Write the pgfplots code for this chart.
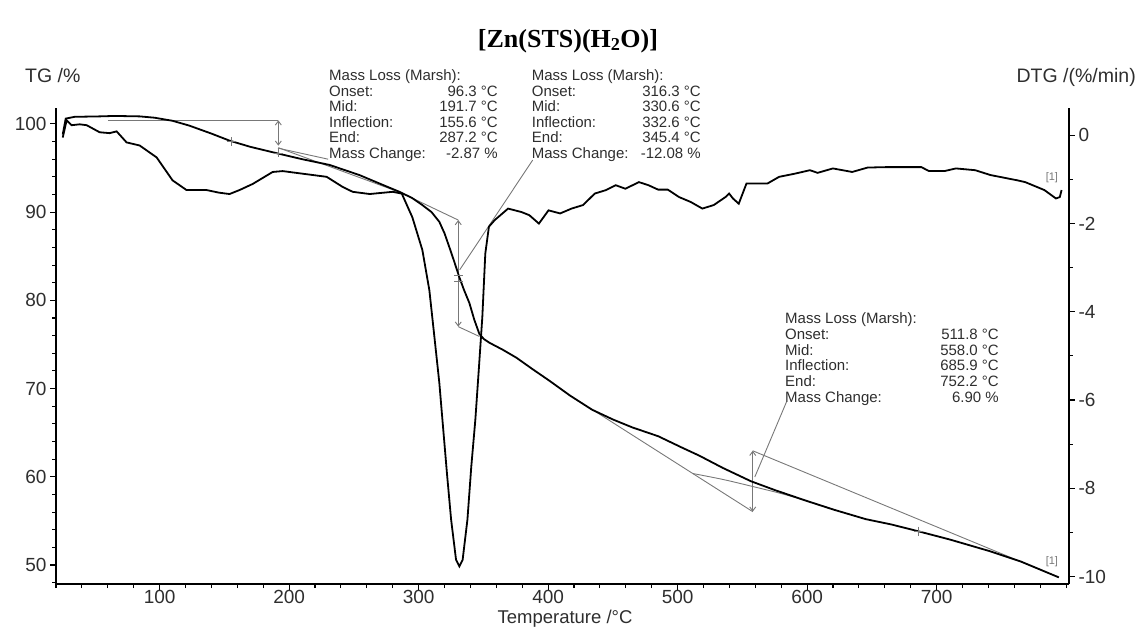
\documentclass[border=0pt]{standalone}
\usepackage{fontspec}
\setmainfont{Liberation Sans}
\newfontfamily\titleserif{Liberation Serif}
\usepackage{pgfplots}
\usepackage{pgfplotstable}
\pgfplotsset{compat=1.18}
\usetikzlibrary{arrows.meta}

\definecolor{ink}{gray}{0.18}
\definecolor{construct}{gray}{0.47}

% thermogravimetric curve: temperature / degC, mass / %
\pgfplotstableread{
T TG
25.2 98.8
27.5 100.6
34.4 100.8
53.7 100.85
65.3 100.9
84.6 100.85
96.1 100.7
110 100.35
123 99.8
140 98.9
154 98.1
170 97.4
192.6 96.6
210 96.0
231.2 95.35
254.3 94.2
272.1 93.1
285.2 92.3
295 91.6
302.9 90.8
310 90.0
316 88.9
320 87.6
323.8 86.0
327.5 84.4
331.5 82.6
335 81.2
339.2 79.7
343 77.8
346.9 76.2
350.5 75.6
354.6 75.2
365 74.4
375.5 73.5
388 72.2
400.9 70.9
417 69.2
434 67.6
450 66.5
465 65.6
485 64.6
503.5 63.3
516.7 62.4
535 61.0
556.6 59.5
575 58.5
599 57.3
620 56.3
645.3 55.2
665 54.6
683.9 53.9
710 52.9
740.4 51.6
765 50.4
794.4 48.6
}\tgdata

% derivative curve: temperature / degC, DTG / (%/min)
\pgfplotstableread{
T D
25.2 -0.05
28.2 0.34
32.1 0.23
38.3 0.25
43.7 0.23
53.7 0.07
61.4 0.05
66.8 0.09
74.5 -0.16
84.6 -0.23
97.7 -0.5
110 -1.02
120.8 -1.24
136.3 -1.24
146 -1.3
154 -1.33
161.7 -1.24
172 -1.1
187.3 -0.83
195 -0.81
208 -0.86
229 -0.94
241.4 -1.17
249.1 -1.28
262.2 -1.33
280 -1.28
287 -1.32
295.2 -1.86
302.9 -2.6
308.3 -3.51
312.2 -4.57
316 -5.61
318.4 -6.45
322 -7.7
325.1 -8.71
328.9 -9.62
331.5 -9.77
334.0 -9.62
337.7 -8.71
340.7 -7.5
343.8 -6.45
346.5 -5.3
349.2 -4.12
351.5 -2.68
354.3 -2.07
358.8 -1.92
369.1 -1.66
379.6 -1.74
385.5 -1.81
392.9 -2.0
400.3 -1.70
409.3 -1.77
418.1 -1.66
427 -1.58
436 -1.32
444.8 -1.24
452.2 -1.13
459.7 -1.21
470.1 -1.06
477.5 -1.13
484.9 -1.23
492.4 -1.23
501.2 -1.40
510.1 -1.51
519.1 -1.66
527.9 -1.58
536.9 -1.40
539.8 -1.32
542.7 -1.43
547.2 -1.55
553.2 -1.09
569.5 -1.09
578.4 -0.94
590.3 -0.87
602.2 -0.79
608.1 -0.85
619.9 -0.75
634.8 -0.83
646.7 -0.73
661.5 -0.72
688.2 -0.72
694.1 -0.81
706 -0.81
714.9 -0.75
729.8 -0.79
741.6 -0.90
762.4 -1.02
768.4 -1.06
783.2 -1.24
792.1 -1.43
795.1 -1.40
796.5 -1.24
}\dtgdata

\newcommand\annfont{\fontsize{15}{15}\selectfont}
% one line of a mass-loss evaluation box: x of labels, x of values, baseline, label, value
\newcommand\annline[5]{%
  \node[anchor=base west, inner sep=0pt, font=\annfont, text=ink] at (#1,#3) {#4};
  \node[anchor=base east, inner sep=0pt, font=\annfont, text=ink] at (#2,#3) {#5};}

\begin{document}
\begin{tikzpicture}[x=1pt,y=1pt]
\useasboundingbox (0,0) rectangle (1137,630);
\pgfplotsset{
  panel/.style={
    at={(56pt,46pt)}, anchor=south west, scale only axis,
    width=1013pt, height=476pt, xmin=20, xmax=802.2,
    axis line style={-, line width=1.3pt, black},
    tick style={line width=1.1pt, black},
    tick align=outside, major tick length=6pt, minor tick length=4pt,
    ticklabel style={font=\fontsize{19}{19}\selectfont, text=ink},
  },
  thin line/.style={construct, line width=0.9pt},
  twoway/.style={thin line, {Straight Barb[length=4pt,width=6pt]}-{Straight Barb[length=4pt,width=6pt]}},
}

% TG axis (left)
\begin{axis}[panel,
  ymin=47.85, ymax=101.8,
  axis x line*=bottom, axis y line*=left,
  xtick={100,200,...,700}, xticklabels={100,200,300,400,500,600,700},
  xticklabel style={yshift=3pt},
  minor xtick={20,40,...,800},
  ytick={50,60,...,100}, yticklabels={50,60,70,80,90,100},
  minor ytick={48,50,...,100},
  xlabel={Temperature /°C},
  xlabel style={at={(axis description cs:0.5025,0)}, anchor=center, yshift=-35pt,
    font=\fontsize{18.5}{18.5}\selectfont, text=ink},
]
% step 1
\addplot[thin line] coordinates {(60,100.4) (191.7,100.4)};
\addplot[twoway] coordinates {(191.7,100.4) (191.7,97.53)};
\addplot[thin line] coordinates {(191.7,97.3) (286.3,92.2)};
\addplot[thin line] coordinates {(191.4,97.25) (230.1,96.0)};
\addplot[thin line, only marks, mark=+, mark size=4.5pt] coordinates {(155.6,98.0) (191.7,96.7)};
% step 2
\addplot[thin line] coordinates {(286.3,92.2) (330.6,89.1)};
\addplot[twoway] coordinates {(330.6,89.1) (330.6,77.02)};
\addplot[thin line] coordinates {(330.6,77.02) (347,75.9)};
\addplot[thin line] coordinates {(331.7,83.45) (388.1,95.9)};
\addplot[thin line, only marks, mark=-, mark size=4.5pt] coordinates {(330.6,82.8) (330.6,82.1)};
% step 3
\addplot[thin line] coordinates {(432.2,67.8) (558,56.05)};
\addplot[twoway] coordinates {(558,62.95) (558,56.05)};
\addplot[thin line] coordinates {(558,62.95) (794.4,48.6)};
\addplot[thin line, smooth] coordinates {(511.8,60.37) (535,59.7) (558,58.9) (580,58.1) (600,57.25) (620,56.35)};
\addplot[thin line] coordinates {(559.6,59.98) (584.1,68.5)};
\addplot[thin line, only marks, mark=+, mark size=4.5pt] coordinates {(685.9,53.85)};
% TG curve
\addplot[black, line width=1.8pt] table[x=T, y=TG] {\tgdata};
\node[font=\fontsize{11}{11}\selectfont, text=construct] at (axis cs:789,50.4) {[1]};
\end{axis}

% DTG axis (right)
\begin{axis}[panel,
  ymin=-10.17, ymax=0.62,
  axis x line=none, axis y line*=right,
  ytick={-10,-8,...,0}, yticklabels={-10,-8,-6,-4,-2,0},
  minor ytick={-10,-9,...,0},
]
\addplot[black, line width=1.8pt] table[x=T, y=D] {\dtgdata};
\node[font=\fontsize{11}{11}\selectfont, text=construct] at (axis cs:789,-0.97) {[1]};
\end{axis}

% title and axis names
\node[font=\titleserif\bfseries\fontsize{26}{26}\selectfont] at (568,589) {[Zn(STS)(H\textsubscript{2}O)]};
\node[anchor=base west, inner sep=0pt, font=\fontsize{19.5}{19.5}\selectfont, text=ink] at (25,547) {TG /\%};
\node[anchor=base east, inner sep=0pt, font=\fontsize{19.5}{19.5}\selectfont, text=ink] at (1136,547) {DTG /(\%/min)};

% evaluation boxes
\annline{329}{498}{549.5}{Mass Loss (Marsh):}{}
\annline{329}{498}{533.9}{Onset:}{96.3 °C}
\annline{329}{498}{518.3}{Mid:}{191.7 °C}
\annline{329}{498}{502.7}{Inflection:}{155.6 °C}
\annline{329}{498}{487.1}{End:}{287.2 °C}
\annline{329}{498}{471.5}{Mass Change:}{-2.87 \%}

\annline{531.7}{701}{549.5}{Mass Loss (Marsh):}{}
\annline{531.7}{701}{533.9}{Onset:}{316.3 °C}
\annline{531.7}{701}{518.3}{Mid:}{330.6 °C}
\annline{531.7}{701}{502.7}{Inflection:}{332.6 °C}
\annline{531.7}{701}{487.1}{End:}{345.4 °C}
\annline{531.7}{701}{471.5}{Mass Change:}{-12.08 \%}

\annline{785}{999}{306.7}{Mass Loss (Marsh):}{}
\annline{785}{999}{290.85}{Onset:}{511.8 °C}
\annline{785}{999}{275.0}{Mid:}{558.0 °C}
\annline{785}{999}{259.15}{Inflection:}{685.9 °C}
\annline{785}{999}{243.3}{End:}{752.2 °C}
\annline{785}{999}{227.45}{Mass Change:}{6.90 \%}
\end{tikzpicture}
\end{document}
